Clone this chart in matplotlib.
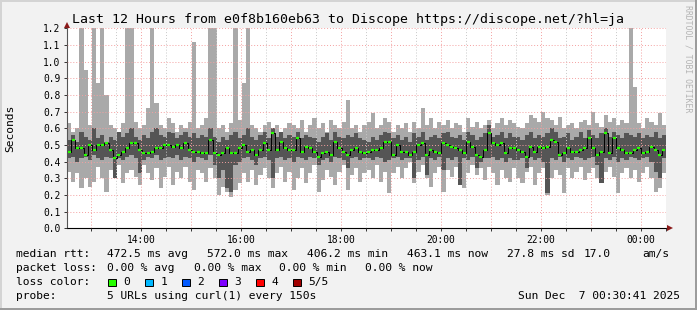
import numpy as np
import matplotlib
matplotlib.use('Agg')
import matplotlib.pyplot as plt
from matplotlib.patches import Rectangle
from matplotlib.ticker import MultipleLocator, FuncFormatter
from matplotlib import transforms

W, H = 697, 310
FONT = 'DejaVu Sans Mono'

START = 12.51   # 12:30:41
END = 24.51     # 00:30:41 next day

# 5 pings per step, sorted: lowest, 2nd, median, 4th, highest (seconds)
ping_min = [
    0.34, 0.28, 0.33, 0.24, 0.30, 0.25, 0.28, 0.37, 0.30, 0.22, 0.35, 0.30, 0.38, 0.27, 0.33, 0.35, 0.31, 0.26,
    0.38, 0.33, 0.29, 0.36, 0.24, 0.31, 0.37, 0.26, 0.34, 0.30, 0.37, 0.28, 0.23, 0.35, 0.33, 0.28, 0.36, 0.30,
    0.20, 0.25, 0.22, 0.19, 0.23, 0.27, 0.33, 0.28, 0.35, 0.26, 0.32, 0.36, 0.30, 0.24, 0.33, 0.37, 0.28, 0.34,
    0.23, 0.30, 0.36, 0.27, 0.33, 0.38, 0.22, 0.29, 0.35, 0.31, 0.26, 0.34, 0.38, 0.23, 0.32, 0.36, 0.28, 0.33,
    0.35, 0.30, 0.38, 0.28, 0.34, 0.21, 0.33, 0.37, 0.30, 0.36, 0.40, 0.27, 0.34, 0.38, 0.30, 0.25, 0.33, 0.37,
    0.22, 0.35, 0.31, 0.37, 0.27, 0.24, 0.33, 0.38, 0.32, 0.36, 0.29, 0.37, 0.33, 0.26, 0.35, 0.30, 0.28, 0.36,
    0.30, 0.27, 0.34, 0.37, 0.26, 0.33, 0.36, 0.20, 0.30, 0.35, 0.32, 0.21, 0.36, 0.30, 0.34, 0.37, 0.29, 0.33,
    0.36, 0.30, 0.28, 0.34, 0.37, 0.31, 0.21, 0.33, 0.36, 0.30, 0.35, 0.28, 0.33, 0.37, 0.30, 0.22, 0.24, 0.33,
]
ping_low = [
    0.42, 0.43, 0.40, 0.42, 0.43, 0.41, 0.44, 0.42, 0.41, 0.43, 0.42, 0.30, 0.42, 0.41, 0.43, 0.44, 0.42, 0.33,
    0.41, 0.43, 0.42, 0.44, 0.41, 0.42, 0.43, 0.42, 0.44, 0.41, 0.43, 0.42, 0.40, 0.43, 0.42, 0.41, 0.44, 0.38,
    0.30, 0.35, 0.24, 0.22, 0.38, 0.40, 0.42, 0.43, 0.41, 0.38, 0.42, 0.43, 0.41, 0.30, 0.42, 0.43, 0.41, 0.42,
    0.40, 0.43, 0.42, 0.41, 0.43, 0.42, 0.38, 0.41, 0.42, 0.40, 0.43, 0.42, 0.41, 0.36, 0.42, 0.43, 0.41, 0.42,
    0.42, 0.41, 0.43, 0.42, 0.40, 0.41, 0.42, 0.43, 0.41, 0.42, 0.42, 0.30, 0.41, 0.43, 0.32, 0.42, 0.41, 0.43,
    0.35, 0.42, 0.41, 0.43, 0.26, 0.42, 0.41, 0.43, 0.36, 0.40, 0.42, 0.42, 0.43, 0.41, 0.42, 0.40, 0.42, 0.41,
    0.41, 0.42, 0.36, 0.43, 0.41, 0.42, 0.40, 0.21, 0.42, 0.41, 0.43, 0.40, 0.42, 0.41, 0.43, 0.42, 0.41, 0.42,
    0.43, 0.38, 0.27, 0.42, 0.41, 0.43, 0.40, 0.42, 0.41, 0.43, 0.42, 0.41, 0.42, 0.43, 0.40, 0.34, 0.30, 0.42,
]
ping_median = [
    0.46, 0.53, 0.48, 0.48, 0.44, 0.50, 0.47, 0.50, 0.50, 0.51, 0.47, 0.42, 0.44, 0.46, 0.48, 0.51, 0.51, 0.47,
    0.45, 0.45, 0.46, 0.48, 0.48, 0.50, 0.50, 0.49, 0.50, 0.48, 0.51, 0.47, 0.46, 0.46, 0.45, 0.45, 0.53, 0.45,
    0.44, 0.45, 0.48, 0.45, 0.45, 0.48, 0.50, 0.46, 0.47, 0.44, 0.47, 0.51, 0.47, 0.57, 0.47, 0.52, 0.48, 0.47,
    0.47, 0.54, 0.46, 0.49, 0.48, 0.46, 0.43, 0.45, 0.46, 0.44, 0.52, 0.48, 0.46, 0.44, 0.47, 0.48, 0.46, 0.45,
    0.46, 0.47, 0.47, 0.48, 0.52, 0.52, 0.44, 0.50, 0.46, 0.46, 0.44, 0.46, 0.50, 0.51, 0.44, 0.47, 0.46, 0.45,
    0.51, 0.50, 0.49, 0.48, 0.47, 0.45, 0.52, 0.49, 0.44, 0.43, 0.47, 0.57, 0.51, 0.50, 0.51, 0.45, 0.48, 0.48,
    0.47, 0.46, 0.43, 0.49, 0.46, 0.49, 0.48, 0.49, 0.53, 0.52, 0.44, 0.45, 0.48, 0.46, 0.46, 0.47, 0.48, 0.54,
    0.48, 0.44, 0.46, 0.57, 0.45, 0.54, 0.48, 0.47, 0.45, 0.45, 0.47, 0.48, 0.45, 0.46, 0.49, 0.47, 0.44, 0.47,
]
ping_high = [
    0.53, 0.56, 0.52, 0.58, 0.55, 0.53, 0.60, 0.54, 0.56, 0.52, 0.55, 0.53, 0.58, 0.55, 0.57, 0.60, 0.55, 0.53,
    0.56, 0.54, 0.58, 0.60, 0.56, 0.55, 0.58, 0.57, 0.54, 0.56, 0.58, 0.55, 0.57, 0.54, 0.56, 0.55, 0.60, 0.55,
    0.52, 0.55, 0.53, 0.56, 0.58, 0.54, 0.56, 0.60, 0.55, 0.53, 0.56, 0.58, 0.54, 0.60, 0.55, 0.58, 0.54, 0.56,
    0.55, 0.58, 0.54, 0.56, 0.55, 0.54, 0.52, 0.55, 0.57, 0.53, 0.58, 0.55, 0.54, 0.56, 0.55, 0.57, 0.54, 0.53,
    0.52, 0.55, 0.53, 0.56, 0.58, 0.57, 0.54, 0.56, 0.53, 0.55, 0.52, 0.57, 0.55, 0.58, 0.53, 0.55, 0.56, 0.54,
    0.57, 0.58, 0.55, 0.54, 0.56, 0.53, 0.58, 0.56, 0.53, 0.55, 0.57, 0.62, 0.55, 0.56, 0.58, 0.54, 0.57, 0.55,
    0.55, 0.53, 0.56, 0.58, 0.54, 0.56, 0.55, 0.57, 0.60, 0.58, 0.54, 0.55, 0.57, 0.53, 0.55, 0.58, 0.54, 0.59,
    0.56, 0.54, 0.57, 0.60, 0.55, 0.58, 0.56, 0.54, 0.57, 0.56, 0.55, 0.57, 0.54, 0.56, 0.55, 0.58, 0.54, 0.56,
]
ping_max = [
    0.63, 0.58, 0.60, 1.25, 0.95, 0.62, 1.25, 0.87, 1.25, 0.80, 0.62, 0.60, 0.58, 0.63, 1.25, 1.25, 0.64, 0.60,
    0.62, 0.72, 1.25, 0.75, 0.62, 0.60, 0.66, 0.63, 0.58, 0.62, 0.60, 0.64, 1.12, 0.60, 0.62, 0.66, 1.25, 1.25,
    0.60, 0.62, 0.58, 0.63, 1.25, 0.65, 0.87, 1.25, 0.62, 0.60, 0.58, 0.62, 0.64, 0.60, 0.62, 0.58, 0.60, 0.63,
    0.62, 0.60, 0.65, 0.58, 0.62, 0.66, 0.60, 0.63, 0.58, 0.65, 0.62, 0.60, 0.64, 0.77, 0.60, 0.62, 0.58, 0.62,
    0.64, 0.69, 0.60, 0.62, 0.66, 0.64, 0.58, 0.62, 0.60, 0.63, 0.58, 0.64, 0.60, 0.72, 0.62, 0.66, 0.60, 0.64,
    0.62, 0.65, 0.60, 0.63, 0.62, 0.58, 0.66, 0.61, 0.64, 0.60, 0.62, 0.65, 0.60, 0.63, 0.66, 0.62, 0.65, 0.63,
    0.61, 0.60, 0.63, 0.68, 0.66, 0.64, 0.70, 0.66, 0.65, 0.62, 0.67, 0.60, 0.62, 0.63, 0.60, 0.64, 0.65, 0.62,
    0.70, 0.63, 0.61, 0.68, 0.64, 0.66, 0.62, 0.65, 0.63, 1.25, 0.85, 0.63, 0.60, 0.66, 0.64, 0.62, 0.69, 0.62,
]

loss_labels = ['0', '1', '2', '3', '4', '5/5']
loss_colors = ['#26ff00', '#00b8ff', '#0059ff', '#7e00ff', '#ff0000', '#a10000']

title = 'Last 12 Hours from e0f8b160eb63 to Discope https://discope.net/?hl=ja'
rtt_line = [('median rtt:', 16), ('472.5 ms avg', 107.3), ('572.0 ms max', 207.3),
            ('406.2 ms min', 307.3), ('463.1 ms now', 407.3), ('27.8 ms sd', 507.3),
            ('17.0', 583.3), ('am/s', 642.7)]
loss_line = [('packet loss:', 16), ('0.00 % avg', 107.3), ('0.00 % max', 194),
             ('0.00 % min', 279.3), ('0.00 % now', 365)]
probe_text = '5 URLs using curl(1) every 150s'
stamp = 'Sun Dec  7 00:30:41 2025'


def fx(x):
    return x / W


def fy(y):
    return 1 - y / H


n = len(ping_median)
edges = np.linspace(START, END, n + 1)
t = (edges[:-1] + edges[1:]) / 2
step = edges[1] - edges[0]

fig = plt.figure(figsize=(W / 100, H / 100), dpi=100)
fig.patch.set_facecolor('#f2f2f2')

ax = fig.add_axes([fx(67), fy(228.3), fx(666) - fx(67), fy(28.3) - fy(228.3)])
ax.set_facecolor('white')

light = '#a9a9a9'
dark = '#555555'
ax.stairs(ping_low, edges, baseline=ping_min, fill=True, color=light, lw=0, zorder=1)
ax.stairs(ping_high, edges, baseline=ping_low, fill=True, color=dark, lw=0, zorder=1)
ax.stairs(ping_max, edges, baseline=ping_high, fill=True, color=light, lw=0, zorder=1)

# median: black connectors + green loss colour
ax.step(t, ping_median, where='mid', color='black', lw=0.7, zorder=3)
ax.hlines(ping_median, t - step * 0.36, t + step * 0.36, color=loss_colors[0], lw=1.6, zorder=4)

ax.set_xlim(START, END)
ax.set_ylim(0, 1.2)

ax.yaxis.set_major_locator(MultipleLocator(0.1))
ax.yaxis.set_major_formatter(FuncFormatter(lambda v, p: '%.1f' % v))
ax.xaxis.set_major_locator(MultipleLocator(1))
ax.xaxis.set_minor_locator(MultipleLocator(0.5))
ax.xaxis.set_major_formatter(FuncFormatter(
    lambda h, p: '%02d:00' % (int(round(h)) % 24) if int(round(h)) % 2 == 0 else ''))

ax.set_axisbelow(False)
ax.grid(True, which='major', color='#f4a0a0', lw=0.7, ls=(0, (1, 2)), zorder=2)
ax.grid(True, which='minor', axis='x', color='#c8c8c8', lw=0.7, ls=(0, (1, 2)), zorder=2)

ax.tick_params(axis='both', which='both', labelsize=6.9, length=2.2, width=0.7,
               direction='out', color='#333333')
ax.tick_params(axis='x', pad=2.5)
ax.tick_params(axis='y', pad=2.5)
for lbl in ax.get_xticklabels() + ax.get_yticklabels():
    lbl.set_family(FONT)

for side in ('top', 'right'):
    ax.spines[side].set_visible(False)
ax.spines['left'].set_color('#555555')
ax.spines['bottom'].set_color('black')
ax.spines['left'].set_linewidth(0.8)
ax.spines['bottom'].set_linewidth(0.8)

# axis arrows
arrow_col = '#8b1a1a'
up = transforms.offset_copy(ax.transAxes, fig=fig, x=0, y=3.5, units='dots')
ax.plot([0], [1], marker='^', ms=4, color=arrow_col, mew=0, transform=up, clip_on=False)
right = transforms.offset_copy(ax.transAxes, fig=fig, x=4, y=0, units='dots')
ax.plot([1], [0], marker='>', ms=4, color=arrow_col, mew=0, transform=right, clip_on=False)

# title, labels
fig.text(0.5, fy(19.3), title, ha='center', va='center', family=FONT, size=9.5)
fig.text(fx(10), fy(128), 'Seconds', rotation=90, ha='center', va='center', family=FONT, size=8.1)
fig.text(fx(688), fy(5), 'RRDTOOL / TOBI OETIKER', rotation=270, ha='center', va='top',
         family=FONT, size=5.9, color='#b4b4b4')

# legend rows
for s, x in rtt_line:
    fig.text(fx(x), fy(254.3), s, ha='left', va='center', family=FONT, size=8.1)
for s, x in loss_line:
    fig.text(fx(x), fy(268.3), s, ha='left', va='center', family=FONT, size=8.1)
fig.text(fx(16), fy(282.3), 'loss color:', ha='left', va='center', family=FONT, size=8.1)
for k, (lab, col) in enumerate(zip(loss_labels, loss_colors)):
    bx = 108.3 + k * 37.0
    fig.add_artist(Rectangle((fx(bx), fy(286)), 7.2 / W, 7.2 / H, transform=fig.transFigure,
                             facecolor=col, edgecolor='black', lw=0.7))
    fig.text(fx(bx + 15), fy(282.3), lab, ha='left', va='center', family=FONT, size=8.1)
fig.text(fx(16), fy(296), 'probe:', ha='left', va='center', family=FONT, size=8.1)
fig.text(fx(107.3), fy(296), probe_text, ha='left', va='center', family=FONT, size=8.1)
fig.text(fx(680), fy(296), stamp, ha='right', va='center', family=FONT, size=8.1)

# 3d-ish image border
fig.add_artist(Rectangle((0, fy(2)), 1, 2 / H, transform=fig.transFigure, color='#d4d4d4', lw=0))
fig.add_artist(Rectangle((0, 0), 2 / W, 1, transform=fig.transFigure, color='#d4d4d4', lw=0))
fig.add_artist(Rectangle((0, 0), 1, 2 / H, transform=fig.transFigure, color='#9c9c9c', lw=0))
fig.add_artist(Rectangle((fx(695), 0), 2 / W, 1, transform=fig.transFigure, color='#9c9c9c', lw=0))

fig.savefig('out.png', dpi=100, facecolor=fig.get_facecolor())
